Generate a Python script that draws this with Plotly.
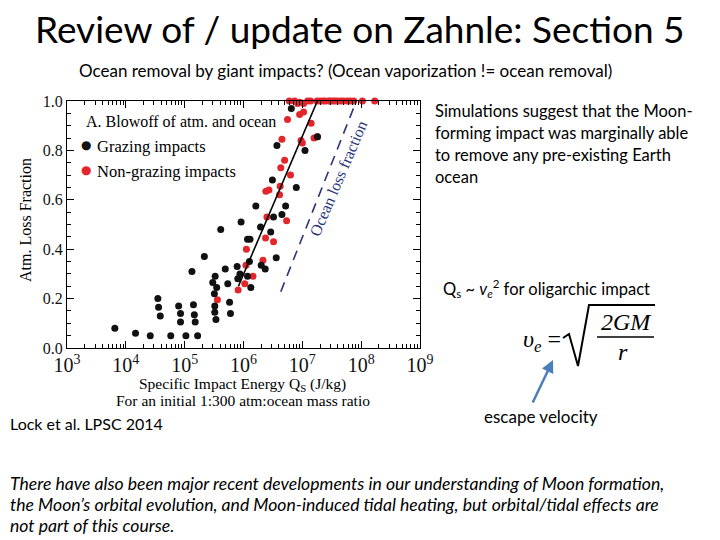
import plotly.graph_objects as go

# ---- data ----
grazing_q = [6.5e3, 1.46e4, 2.6e4, 5.8e4, 1.05e5, 1.66e5, 3.5e4, 3.6e4, 3.85e4, 7.9e4,
             8.5e4, 8.5e4, 1.33e5, 1.41e5, 1.46e5, 1.51e5, 2.16e5, 3.0e5, 3.2e5, 3.3e5,
             3.5e5, 3.25e5, 3.25e5, 3.4e5, 4.1e5, 4.9e5, 5.4e5, 5.8e5, 6.0e5, 7.8e5,
             8.0e5, 8.7e5, 9.1e5, 1.17e6, 1.29e6, 1.26e6, 1.17e6, 1.33e6, 1.62e6, 1.95e6,
             2.0e6, 2.34e6, 2.9e6, 3.1e6, 3.24e6, 3.6e6, 3.7e6, 4.5e6, 5.2e6, 6.5e6,
             7.9e6, 1.11e7, 1.8e7]
grazing_loss = [0.08, 0.06, 0.05, 0.05, 0.05, 0.05, 0.20, 0.165, 0.13, 0.17,
                0.14, 0.105, 0.31, 0.175, 0.135, 0.105, 0.37, 0.265, 0.22, 0.29,
                0.245, 0.17, 0.145, 0.115, 0.48, 0.32, 0.26, 0.185, 0.14, 0.33,
                0.28, 0.30, 0.51, 0.44, 0.44, 0.35, 0.29, 0.245, 0.575, 0.49,
                0.335, 0.32, 0.47, 0.68, 0.53, 0.365, 0.82, 0.54, 0.575, 0.97,
                0.65, 0.80, 0.855]

nongrazing_q = [3.6e5, 8.1e5, 1.05e6, 1.12e6, 1.1e6, 1.45e6, 2.14e6, 2.37e6, 2.5e6, 2.4e6,
                2.7e6, 3.24e6, 4.1e6, 4.2e6, 4.3e6, 4.5e6, 5.0e6, 5.4e6, 6.3e6, 5.6e6,
                9.5e6, 1.0e7, 9.0e6, 1.05e7, 1.41e7, 1.58e7, 1.82e7,
                6.0e6, 7.4e6, 8.3e6, 9.1e6, 1.05e7, 1.23e7, 1.38e7, 1.78e7, 2.0e7,
                2.25e7, 2.45e7, 2.8e7, 3.0e7, 3.3e7, 3.6e7, 4.0e7, 4.5e7, 5.0e7,
                5.8e7, 6.6e7, 7.5e7, 1.05e8, 1.7e8]
nongrazing_loss = [0.195, 0.235, 0.26, 0.40, 0.335, 0.29, 0.355, 0.445, 0.53, 0.635,
                   0.64, 0.43, 0.62, 0.655, 0.73, 0.845, 0.76, 0.515, 0.70, 0.925,
                   0.84, 0.83, 0.945, 0.955, 0.91, 0.85, 0.855,
                   1.0, 1.0, 0.99, 0.995, 0.99, 1.0, 1.0, 1.0, 1.0,
                   1.0, 1.0, 1.0, 1.0, 1.0, 1.0, 1.0, 1.0, 1.0,
                   1.0, 1.0, 1.0, 1.0, 1.0]

fit_q = [8.2e5, 1.8e7]
fit_loss = [0.25, 1.0]

ocean_q = [4.3e6, 8.3e7]
ocean_loss = [0.228, 1.0]

W, H = 720, 540


def px(x, y):
    return x / W, 1 - y / H


fig = go.Figure()

fig.add_trace(go.Scatter(x=nongrazing_q, y=nongrazing_loss, mode="markers",
                         marker=dict(size=7, color="#e3262c"), cliponaxis=False,
                         name="Non-grazing impacts", showlegend=False))
fig.add_trace(go.Scatter(x=grazing_q, y=grazing_loss, mode="markers",
                         marker=dict(size=7, color="#111111"), cliponaxis=False,
                         name="Grazing impacts", showlegend=False))
fig.add_trace(go.Scatter(x=fit_q, y=fit_loss, mode="lines",
                         line=dict(color="black", width=1.6), showlegend=False))
fig.add_trace(go.Scatter(x=ocean_q, y=ocean_loss, mode="lines",
                         line=dict(color="#2a3579", width=1.6, dash="10px,7px"),
                         showlegend=False))

serif = "Liberation Serif"
body = "Lato"

fig.update_layout(
    width=W, height=H, margin=dict(l=0, r=0, t=0, b=0, autoexpand=False),
    paper_bgcolor="white", plot_bgcolor="white",
    showlegend=False,
    xaxis=dict(type="log", range=[3, 9], domain=[67 / W, 420 / W], automargin=False,
               dtick=1, exponentformat="power", showgrid=False, zeroline=False,
               ticks="inside", ticklen=7, tickcolor="black", showline=True,
               linecolor="black", linewidth=1, mirror="allticks",
               tickfont=dict(family=serif, size=16, color="#111"),
               minor=dict(ticks="inside", ticklen=4, dtick="D1", tickcolor="black")),
    yaxis=dict(range=[0, 1.0], domain=[1 - 348 / H, 1 - 101 / H], automargin=False,
               dtick=0.2, tickformat=".1f", showgrid=False, zeroline=False,
               ticks="inside", ticklen=7, tickcolor="black", showline=True,
               linecolor="black", linewidth=1, mirror="allticks",
               tickfont=dict(family=serif, size=16, color="#111"),
               minor=dict(ticks="inside", ticklen=4, dtick=0.05, tickcolor="black")),
)

ann = []


def text(x, y, s, size, family=body, color="black", xanchor="left", angle=0, **kw):
    xp, yp = px(x, y)
    ann.append(dict(x=xp, y=yp, xref="paper", yref="paper", text=s, showarrow=False,
                    xanchor=xanchor, yanchor="middle", textangle=angle,
                    font=dict(family=family, size=size, color=color), **kw))


# slide title and subtitle
text(360, 29, "Review of / update on Zahnle: Section 5", 37, xanchor="center")
text(345, 70, "Ocean removal by giant impacts? (Ocean vaporization != ocean removal)", 17,
     xanchor="center")

# chart texts
text(25, 220, "Atm. Loss Fraction", 16, family=serif, xanchor="center", angle=-90)
text(242, 384, "Specific Impact Energy Q<sub>S</sub> (J/kg)", 15.5, family=serif, xanchor="center")
text(243, 400, "For an initial 1:300 atm:ocean mass ratio", 15.5, family=serif, xanchor="center")
text(84, 122, "A. Blowoff of atm. and ocean", 16, family=serif)
text(86, 145, "●", 12, family="DejaVu Sans", color="#111111", xanchor="center")
text(95, 146, "Grazing impacts", 16.5, family=serif)
text(86, 170, "●", 12, family="DejaVu Sans", color="#e3262c", xanchor="center")
text(95, 171, "Non-grazing impacts", 16.5, family=serif)
text(338, 178, "Ocean loss fraction", 16, family=serif, color="#2a3579",
     xanchor="center", angle=-67)

# right-hand notes
for i, line in enumerate(["Simulations suggest that the Moon-",
                          "forming impact was marginally able",
                          "to remove any pre-existing Earth",
                          "ocean"]):
    text(433, 111 + 22 * i, line, 16.5)

text(441, 288, "Q<sub>s</sub> ~ <i>v</i><sub><i>e</i></sub><sup>2</sup> for oligarchic impact", 16.5)

# escape velocity formula
text(542, 341, "<i>υ</i><sub><i>e</i></sub> =", 24, family=serif, xanchor="center")
text(626, 322, "<i>2GM</i>", 24, family=serif, xanchor="center")
text(623, 352, "<i>r</i>", 24, family=serif, xanchor="center")

text(541, 416, "escape velocity", 17, xanchor="center")
text(8, 423, "Lock et al. LPSC 2014", 16)

for i, line in enumerate([
        "There have also been major recent developments in our understanding of Moon formation,",
        "the Moon\u2019s orbital evolution, and Moon-induced tidal heating, but orbital/tidal effects are",
        "not part of this course."]):
    text(8, 483 + 21 * i, "<i>" + line + "</i>", 17.6)

# arrow to v_e
hx, hy = px(553, 360)
ann.append(dict(x=hx, y=hy, xref="paper", yref="paper", text="", showarrow=True,
                ax=-21, ay=44, arrowhead=2, arrowsize=1, arrowwidth=2.5,
                arrowcolor="#4a7ebb"))

fig.update_layout(annotations=ann)


def P(x, y):
    return f"{x / W},{1 - y / H}"


# radical sign and fraction bar
fig.add_shape(type="path", xref="paper", yref="paper",
              path=f"M {P(563, 338)} L {P(569, 334)} L {P(578, 366)} L {P(589, 305)} L {P(655, 305)}",
              line=dict(color="black", width=2))
fig.add_shape(type="line", xref="paper", yref="paper",
              x0=597 / W, x1=654 / W, y0=1 - 337 / H, y1=1 - 337 / H,
              line=dict(color="black", width=1.5))

fig.write_html("out.html", config={"displayModeBar": False},
               post_script="document.body.style.margin='0';document.body.style.overflow='hidden';")
